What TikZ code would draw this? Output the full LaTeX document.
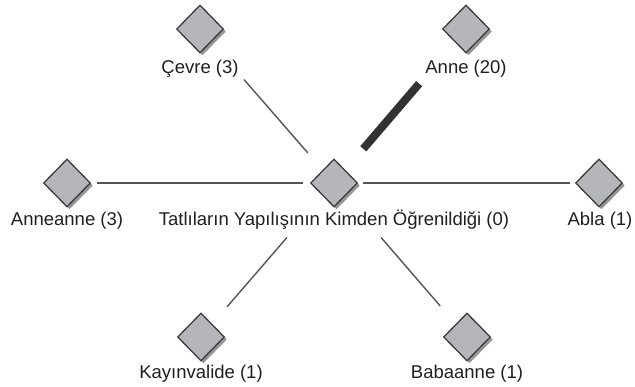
\documentclass[tikz,border=0pt]{standalone}
\usepackage{fontspec}
\setmainfont{Liberation Sans}
\usetikzlibrary{shapes.geometric,shadows}
\definecolor{dfill}{RGB}{180,182,188}
\definecolor{dborder}{RGB}{60,60,60}
\definecolor{edgec}{RGB}{85,85,85}
\definecolor{thickc}{RGB}{50,50,50}
\definecolor{shadowc}{RGB}{150,150,150}
\tikzset{
  dnode/.style={diamond, draw=dborder, line width=1.3pt, fill=dfill, inner sep=0pt,
    minimum width=47pt, minimum height=48pt,
    drop shadow={shadow xshift=2.5pt, shadow yshift=-2.5pt, fill=shadowc, opacity=1}},
  lbl/.style={anchor=base, inner sep=0pt, font=\fontsize{18.5}{20}\selectfont, text=black!88},
  edge/.style={draw=edgec, line width=1.4pt},
  strong/.style={draw=thickc, line width=8pt}
}
\begin{document}
\begin{tikzpicture}[x=1pt,y=-1pt]
\useasboundingbox (0,0) rectangle (635,387);
% diamonds
\node[dnode] (c) at (334,183) {};
\node[dnode] (cevre) at (200,29) {};
\node[dnode] (anne) at (466,29) {};
\node[dnode] (anneanne) at (67,183) {};
\node[dnode] (abla) at (599,183) {};
\node[dnode] (kayin) at (201,337) {};
\node[dnode] (baba) at (467,337) {};
% labels
\node[lbl] (cL) at (334,226) {Tatlıların Yapılışının Kimden Öğrenildiği (0)};
\node[lbl] (cevreL) at (200,74) {Çevre (3)};
\node[lbl] (anneL) at (466,74) {Anne (20)};
\node[lbl] (anneanneL) at (67,226) {Anneanne (3)};
\node[lbl] (ablaL) at (600,226) {Abla (1)};
\node[lbl] (kayinL) at (201,379) {Kayınvalide (1)};
\node[lbl] (babaL) at (467,379) {Babaanne (1)};
% edges
\draw[edge, shorten <=67pt, shorten >=40pt] (cevre.center) -- (c.center);
\draw[strong, shorten <=72pt, shorten >=45pt] (anne.center) -- (c.center);
\draw[edge, shorten <=30pt, shorten >=31pt] (anneanne.center) -- (c.center);
\draw[edge, shorten <=29pt, shorten >=29pt] (c.center) -- (abla.center);
\draw[edge, shorten <=40pt, shorten >=72pt] (kayin.center) -- (c.center);
\draw[edge, shorten <=72pt, shorten >=41pt] (c.center) -- (baba.center);
\end{tikzpicture}
\end{document}
